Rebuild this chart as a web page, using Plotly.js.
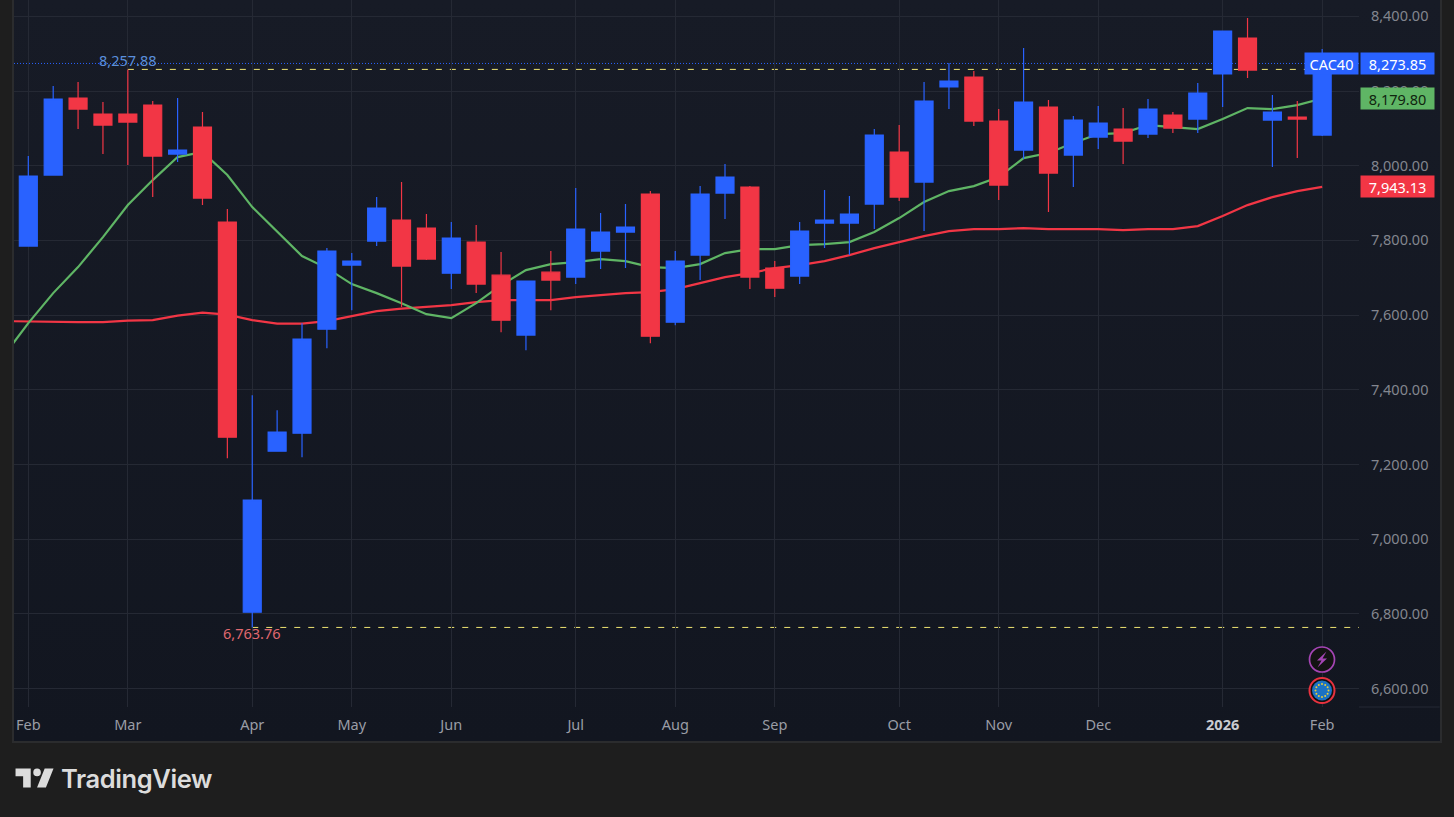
<!DOCTYPE html>
<html><head><meta charset="utf-8">
<script src="https://cdn.plot.ly/plotly-3.0.1.min.js"></script>
<style>
html,body{margin:0;padding:0;width:1454px;height:817px;overflow:hidden;background:#1e1e1e}
#frame{position:absolute;left:12px;top:-2px;width:1430px;height:745px;box-sizing:border-box;border:2px solid #2b2c2e;background:linear-gradient(180deg,#171b26 0%,#121620 100%)}
#chart{position:absolute;left:0;top:0;width:1454px;height:817px}
svg.over{position:absolute;overflow:visible}
#brand{position:absolute;left:61px;top:762px;font-family:Inter,"Noto Sans",sans-serif;font-weight:600;font-size:25.5px;line-height:34px;color:#dcdcdc;letter-spacing:-0.4px}
</style></head><body>
<div id="frame"></div>
<div id="chart"></div>
<svg class="over" style="left:12.5px;top:761.4px" width="45.6" height="35.5" viewBox="0 0 36 28"><path fill="#dcdcdc" d="M14 6H2v6h6v9h6V6Zm12 15h-7l6-15h7l-6 15Zm-7-9a3 3 0 1 0 0-6 3 3 0 0 0 0 6Z"/></svg>
<div id="brand">TradingView</div>
<svg class="over" style="left:1300px;top:640px" width="44" height="70" viewBox="0 0 44 70">
<circle cx="22" cy="19.5" r="12.5" fill="#131313" stroke="#a545b5" stroke-width="1.7"/>
<path d="M26.5 11.5 L17 20.5 L21.5 20.5 L17.5 27.5 L27 18.5 L22.5 18.5 Z" fill="#a545b5"/>
<circle cx="22" cy="50.5" r="12.5" fill="#111" stroke="#e8323f" stroke-width="2"/>
<circle cx="22" cy="50.5" r="10" fill="#1b72c4"/>
<g fill="#e7cf3a"><circle cx="22" cy="44" r="1"/><circle cx="25.2" cy="44.9" r="1"/><circle cx="27.6" cy="47.3" r="1"/><circle cx="28.5" cy="50.5" r="1"/><circle cx="27.6" cy="53.7" r="1"/><circle cx="25.2" cy="56.1" r="1"/><circle cx="22" cy="57" r="1"/><circle cx="18.8" cy="56.1" r="1"/><circle cx="16.4" cy="53.7" r="1"/><circle cx="15.5" cy="50.5" r="1"/><circle cx="16.4" cy="47.3" r="1"/><circle cx="18.8" cy="44.9" r="1"/></g>
</svg>
<script>
var priorWeek = ["2025-01-27"];
var weeks = ["2025-02-03","2025-02-10","2025-02-17","2025-02-24","2025-03-03","2025-03-10","2025-03-17","2025-03-24","2025-03-31",
"2025-04-07","2025-04-14","2025-04-21","2025-04-28","2025-05-05","2025-05-12","2025-05-19","2025-05-26","2025-06-02","2025-06-09","2025-06-16","2025-06-23","2025-06-30",
"2025-07-07","2025-07-14","2025-07-21","2025-07-28","2025-08-04","2025-08-11","2025-08-18","2025-08-25","2025-09-01","2025-09-08","2025-09-15","2025-09-22","2025-09-29",
"2025-10-06","2025-10-13","2025-10-20","2025-10-27","2025-11-03","2025-11-10","2025-11-17","2025-11-24","2025-12-01","2025-12-08","2025-12-15","2025-12-22","2025-12-29",
"2026-01-05","2026-01-12","2026-01-19","2026-01-26","2026-02-02"];
var open = [7784.8,7975,8181.2,8138.4,8138.4,8162.4,8031.2,8103.5,7849,6804.4,7235.6,7283.9,7562.4,7733.9,7798.2,7854.4,7833,7712.4,7795.5,7707,7546.4,7715,7701.7,7771.4,7822.3,7924,7581.2,7760.7,7926.7,7942.8,7725.8,7704.4,7846.4,7846.4,7897.3,8036.6,7956.2,8210.7,8237.4,8119.6,8041.9,8157,8028.5,8076.7,8098.2,8084.8,8135.7,8124.9,8245.5,8341.9,8122.3,8130.3,8082];
var high = [8025.8,8213.3,8224,8170.5,8257.88,8173.2,8181.2,8143.7,7883.9,7385.6,7345.5,7578.5,7779.4,7766,7916,7956.2,7870.5,7849,7841,7768.7,7691,7771.4,7940,7873.2,7897.3,7932,7771.4,7945.5,8004.4,7945.5,7744.6,7849,7934.8,7918.7,8098.2,8108.9,8224,8275,8253.5,8151.7,8315.1,8175.8,8133,8159.8,8154.4,8178.5,8143.7,8221.4,8360.7,8395.5,8189.2,8173.2,8312.4];
var low = [7784,7973,8098.2,8031.2,8001.7,7916,8009.8,7894.6,7216.9,6763.76,7235,7219.6,7511.5,7613.3,7784.8,7621.4,7747.3,7669.6,7658.9,7554.4,7506.2,7613.3,7683,7723.2,7725.8,7524.9,7573.1,7693.7,7857.1,7669.6,7648.2,7683,7779.4,7760.7,7830.3,7905.3,7825,8151.7,8106.2,7908,8017.8,7875.8,7942.8,8044.6,8004.4,8074,8087.4,8087.4,8157,8234.8,7996.4,8020.5,8079.4];
var close = [7972.3,8178.5,8151.7,8108.9,8116.9,8025.8,8041.9,7913.3,7273.2,7104.4,7286.5,7535.6,7771.4,7744.6,7886.6,7731.2,7750,7806.2,7683,7586.5,7691,7693.7,7830.3,7822.3,7835.6,7543.7,7744.6,7924,7969.6,7701.7,7672.2,7825,7854.4,7870.5,8082,7916,8173.2,8226.7,8119.6,7948.2,8170.5,7980.3,8122.3,8114.2,8066,8151.7,8100.8,8194.6,8360.7,8256.2,8143.7,8124.9,8273.85];
var greenMA = [7490,7578.5,7658.9,7728.5,7808.9,7894.6,7961.5,8023.2,8036.6,7975,7889.2,7822.3,7758,7725.8,7683,7658.9,7632,7602.6,7591.9,7632,7680.3,7720.5,7736.5,7741.9,7750,7744.6,7728.5,7725.8,7736.5,7766,7776.7,7776.7,7787.4,7790.1,7795.5,7822.3,7859.8,7902.6,7932,7945.5,7969.6,8020.5,8033.9,8060.7,8084.8,8087.4,8108.9,8103.5,8098.2,8124.9,8154.4,8151.7,8162.4,8179.8];
var redMA = [7583.9,7582.5,7581.2,7581.2,7581.2,7585.2,7586.5,7598.6,7606.6,7601.3,7586.5,7577.2,7577.2,7583.9,7597.3,7610.6,7617.4,7622.7,7626.7,7634.8,7640.1,7640.1,7640.1,7648.2,7653.5,7658.9,7661.6,7669.6,7685.6,7701.7,7712.4,7725.8,7733.9,7744.6,7760.7,7779.4,7795.5,7811.6,7824.9,7830.3,7830.3,7833,7830.3,7830.3,7830.3,7827.6,7830.3,7830.3,7838.3,7865.1,7894.6,7916,7932,7943.13];
var tickDates = ["2025-02-03","2025-03-03","2025-04-07","2025-05-05","2025-06-02","2025-07-07","2025-08-04","2025-09-01","2025-10-06","2025-11-03","2025-12-01","2026-01-05","2026-02-02"];
var tickNames = ["Feb","Mar","Apr","May","Jun","Jul","Aug","Sep","Oct","Nov","Dec","<b style='color:#c9cbd1'>2026</b>","Feb"];
var symbol = "CAC40", lastPrice = 8273.85, maHigh = 8179.80, maLow = 7943.13, periodHigh = 8257.88, periodLow = 6763.76;
var fmt = function(v){return v.toLocaleString("en-US",{minimumFractionDigits:2,maximumFractionDigits:2});};

var BLUE="#2962ff", RED="#f23645", GREEN="#5fb565", GRID="#252934";
var allWeeks = priorWeek.concat(weeks);
var xRange=[0.425,54.48], yRange=[6550.7,8443.7];
var F='"Noto Sans"', FS=14.5;

var data=[
 {type:"scatter",mode:"lines",x:allWeeks,y:redMA,line:{color:RED,width:2.2},hoverinfo:"skip",showlegend:false},
 {type:"scatter",mode:"lines",x:allWeeks,y:greenMA,line:{color:GREEN,width:2.2},hoverinfo:"skip",showlegend:false},
 {type:"candlestick",x:weeks,open:open,high:high,low:low,close:close,xaxis:"x2",yaxis:"y2",whiskerwidth:0,
  increasing:{line:{color:BLUE,width:1.2},fillcolor:BLUE},decreasing:{line:{color:RED,width:1.2},fillcolor:RED},hoverinfo:"skip",showlegend:false}
];
function tag(txt,y,bg,col,w,xa,shift){
 return {xref:"paper",yref:"y",x:1,y:y,xanchor:xa,xshift:shift,text:txt,showarrow:false,bgcolor:bg,width:w,height:21,borderpad:0,align:"center",
  font:{family:F,size:FS,color:col}};
}
var layout={
 width:1454,height:817,paper_bgcolor:"rgba(0,0,0,0)",plot_bgcolor:"rgba(0,0,0,0)",showlegend:false,
 boxgap:0.15,boxgroupgap:0.15,
 margin:{l:14,r:95,t:0,b:110.3,pad:0},
 xaxis:{type:"category",categoryorder:"array",categoryarray:allWeeks,range:xRange,tickmode:"array",tickvals:tickDates,ticktext:tickNames,
  showgrid:true,gridcolor:GRID,gridwidth:1,zeroline:false,showline:false,ticks:"outside",ticklen:5,tickcolor:"rgba(0,0,0,0)",tickangle:0,
  tickfont:{family:F,size:FS,color:"#9a9da6"},rangeslider:{visible:false}},
 yaxis:{side:"right",range:yRange,tick0:0,dtick:200,tickformat:",.2f",showgrid:true,gridcolor:GRID,gridwidth:1,zeroline:false,showline:false,
  ticks:"outside",ticklen:8,tickcolor:"rgba(0,0,0,0)",tickfont:{family:F,size:FS,color:"#83868f"}},
 xaxis2:{type:"category",categoryorder:"array",categoryarray:allWeeks,range:xRange,overlaying:"x",visible:false,rangeslider:{visible:false}},
 yaxis2:{range:yRange,overlaying:"y",side:"right",visible:false},
 shapes:[
  {type:"line",layer:"below",xref:"x",yref:"y",x0:"2025-03-03",x1:54.48,y0:periodHigh,y1:periodHigh,line:{color:"#f0e672",width:1,dash:"6px,8px"}},
  {type:"line",layer:"below",xref:"x",yref:"y",x0:"2025-04-07",x1:54.48,y0:periodLow,y1:periodLow,line:{color:"#f0e672",width:1,dash:"6px,8px"}},
  {type:"line",layer:"below",xref:"paper",yref:"y",x0:0,x1:1,y0:lastPrice,y1:lastPrice,line:{color:BLUE,width:1,dash:"1px,2px"}},
  {type:"line",xref:"paper",yref:"paper",x0:1,x1:1.06,y0:0,y1:0,line:{color:GRID,width:1}}
 ],
 annotations:[
  {xref:"x",yref:"y",x:"2025-03-03",y:periodHigh,yanchor:"bottom",yshift:-3,text:fmt(periodHigh),showarrow:false,font:{family:F,size:FS,color:"#5b8fdc"}},
  {xref:"x",yref:"y",x:"2025-04-07",y:periodLow,yanchor:"top",yshift:6,text:fmt(periodLow),showarrow:false,font:{family:F,size:FS,color:"#e0686f"}},
  tag(symbol,lastPrice,BLUE,"#ffffff",53,"right",0),
  tag(fmt(lastPrice),lastPrice,BLUE,"#ffffff",73,"left",1),
  tag(fmt(maHigh),maHigh,GREEN,"#10240f",73,"left",1),
  tag(fmt(maLow),maLow,RED,"#ffffff",73,"left",1)
 ]
};
Plotly.newPlot("chart",data,layout,{displayModeBar:false,staticPlot:true});
</script></body></html>
